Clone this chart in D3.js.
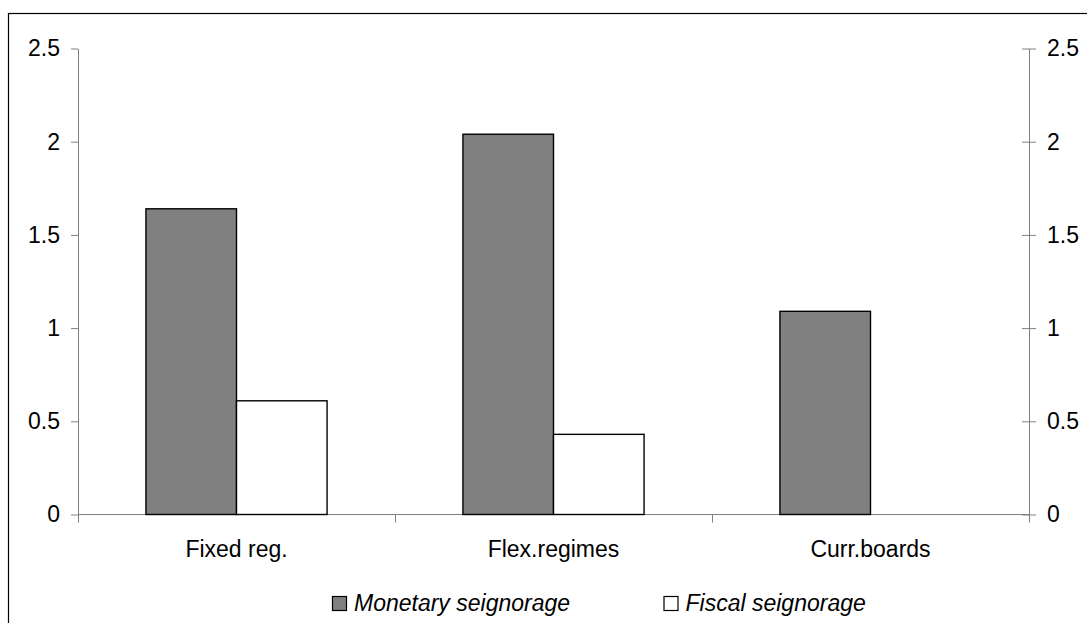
<!DOCTYPE html>
<html>
<head>
<meta charset="utf-8">
<script src="https://cdn.jsdelivr.net/npm/d3@7"></script>
<style>
  html, body { margin: 0; padding: 0; background: #ffffff; }
  svg { display: block; font-family: Arial, "Liberation Sans", sans-serif; }
  .tick text { font-size: 23px; fill: #000; }
  .legend-text { font-size: 23px; font-style: italic; fill: #000; }
</style>
</head>
<body>
<div id="chart"></div>
<script>
const categories = ["Fixed reg.", "Flex.regimes", "Curr.boards"];
const seriesNames = ["Monetary seignorage", "Fiscal seignorage"];
const monetaryValues = [1.64, 2.04, 1.09];
const fiscalValues = [0.61, 0.43, null];
const yTicks = [0, 0.5, 1, 1.5, 2, 2.5];

const WIDTH = 1087;
const HEIGHT = 623;
const PLOT = { left: 78, right: 1029, top: 48.5, bottom: 514.5 };
const FILLS = { "Monetary seignorage": "#808080", "Fiscal seignorage": "#ffffff" };
const AXIS_COLOR = "#808080";

const svg = d3.select("#chart")
  .append("svg")
  .attr("width", WIDTH)
  .attr("height", HEIGHT);

// outer frame (right and bottom edges fall outside the picture)
svg.append("rect")
  .attr("x", 8.5)
  .attr("y", 13.5)
  .attr("width", 1200)
  .attr("height", 800)
  .attr("fill", "none")
  .attr("stroke", "#000")
  .attr("stroke-width", 1.2);

const rows = categories.map((c, i) => ({
  category: c,
  values: [
    { series: seriesNames[0], value: monetaryValues[i] },
    { series: seriesNames[1], value: fiscalValues[i] },
  ],
}));

const x0 = d3.scaleBand().domain(categories).range([PLOT.left, PLOT.right]).padding(0);
const x1 = d3.scaleBand().domain(seriesNames).range([0, x0.bandwidth()]).paddingInner(0).paddingOuter(0.75);
const y = d3.scaleLinear().domain([0, 2.5]).range([PLOT.bottom, PLOT.top]);

// left axis
const leftAxis = svg.append("g")
  .attr("transform", `translate(${PLOT.left},0)`)
  .call(d3.axisLeft(y).tickValues(yTicks).tickSize(7).tickPadding(11).tickSizeOuter(0).tickFormat(d3.format("")));
leftAxis.select(".domain").attr("stroke", AXIS_COLOR);
leftAxis.selectAll(".tick line").attr("stroke", AXIS_COLOR);
leftAxis.selectAll(".tick text").attr("font-family", null).attr("font-size", null);

// right axis, ticks cross the line
const rightAxis = svg.append("g")
  .attr("transform", `translate(${PLOT.right},0)`)
  .call(d3.axisRight(y).tickValues(yTicks).tickSize(7).tickPadding(11).tickSizeOuter(0).tickFormat(d3.format("")));
rightAxis.select(".domain").attr("stroke", AXIS_COLOR);
rightAxis.selectAll(".tick line").attr("stroke", AXIS_COLOR).attr("x1", -7);
rightAxis.selectAll(".tick text").attr("font-family", null).attr("font-size", null);

// category axis
const bottomAxis = svg.append("g")
  .attr("transform", `translate(0,${PLOT.bottom})`)
  .call(d3.axisBottom(x0).tickSize(0).tickPadding(26).tickSizeOuter(0));
bottomAxis.select(".domain").remove();
bottomAxis.selectAll(".tick text").attr("font-family", null).attr("font-size", null);

const edges = categories.map((c) => x0(c)).concat([PLOT.right]);
svg.append("g")
  .selectAll("line")
  .data(edges)
  .join("line")
  .attr("x1", (d) => Math.round(d) + 0.5)
  .attr("x2", (d) => Math.round(d) + 0.5)
  .attr("y1", PLOT.bottom)
  .attr("y2", PLOT.bottom + 8)
  .attr("stroke", AXIS_COLOR);

svg.append("line")
  .attr("x1", PLOT.left)
  .attr("x2", PLOT.right + 1)
  .attr("y1", PLOT.bottom)
  .attr("y2", PLOT.bottom)
  .attr("stroke", AXIS_COLOR);

// bars
svg.append("g")
  .selectAll("g")
  .data(rows)
  .join("g")
  .attr("transform", (d) => `translate(${x0(d.category)},0)`)
  .selectAll("rect")
  .data((d) => d.values.filter((v) => v.value != null))
  .join("rect")
  .attr("x", (d) => x1(d.series))
  .attr("y", (d) => y(d.value))
  .attr("width", x1.bandwidth())
  .attr("height", (d) => y(0) - y(d.value))
  .attr("fill", (d) => FILLS[d.series])
  .attr("stroke", "#000")
  .attr("stroke-width", 1.4);

// legend
const legendX = [332, 663.5];
const legend = svg.append("g");
seriesNames.forEach((name, i) => {
  const item = legend.append("g").attr("transform", `translate(${legendX[i]},596)`);
  item.append("rect")
    .attr("x", 0.5)
    .attr("y", 0.5)
    .attr("width", 14)
    .attr("height", 14)
    .attr("fill", FILLS[name])
    .attr("stroke", "#000")
    .attr("stroke-width", 1.2);
  item.append("text")
    .attr("class", "legend-text")
    .attr("x", 22)
    .attr("y", 15)
    .text(name);
});
</script>
</body>
</html>
